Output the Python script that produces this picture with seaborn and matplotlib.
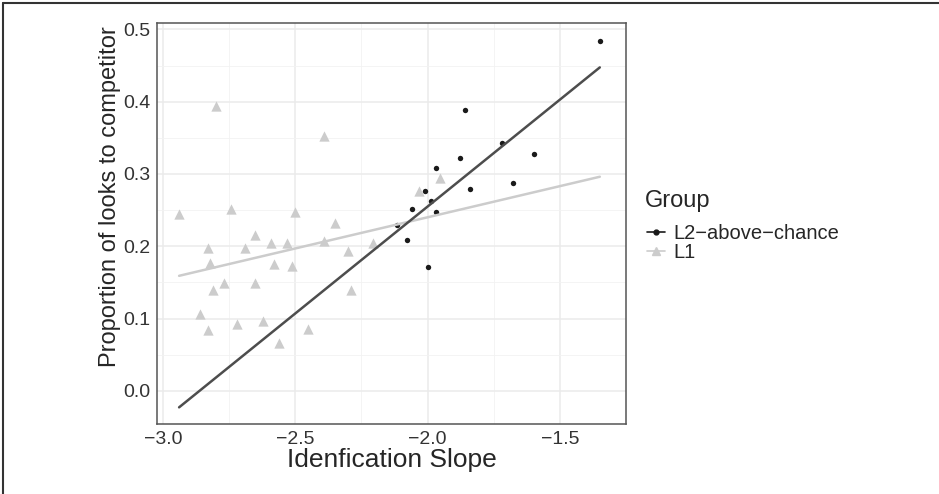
import numpy as np
import pandas as pd
import matplotlib
matplotlib.use('Agg')
import matplotlib.pyplot as plt
from matplotlib.lines import Line2D
import seaborn as sns

# L1 group (grey triangles)
l1_slope = [-2.939, -2.80, -2.741, -2.501, -2.393, -2.351, -2.651, -2.393, -2.205, -2.83,
            -2.69, -2.59, -2.531, -2.821, -2.581, -2.511, -2.301, -2.771, -2.81, -2.651,
            -2.291, -2.86, -2.83, -2.721, -2.621, -2.451, -2.56, -1.954, -2.034]
l1_prop = [0.244, 0.394, 0.251, 0.248, 0.352, 0.232, 0.215, 0.207, 0.205, 0.198,
           0.197, 0.205, 0.204, 0.177, 0.175, 0.173, 0.194, 0.149, 0.140, 0.149,
           0.140, 0.106, 0.084, 0.093, 0.096, 0.085, 0.066, 0.294, 0.277]

# L2-above-chance group (black dots)
l2_slope = [-1.349, -1.857, -1.718, -1.599, -1.876, -1.968, -1.678, -1.838, -2.008, -1.988,
            -2.058, -1.968, -2.115, -2.076, -1.998]
l2_prop = [0.484, 0.388, 0.343, 0.327, 0.322, 0.308, 0.288, 0.279, 0.276, 0.263,
           0.252, 0.247, 0.229, 0.209, 0.172]

groups = ['L2\u2212above\u2212chance', 'L1']
colors = {groups[0]: '#1a1a1a', 'L1': '#cccccc'}
line_colors = {groups[0]: '#4d4d4d', 'L1': '#cccccc'}
markers = {groups[0]: 'o', 'L1': '^'}
sizes = {groups[0]: 15, 'L1': 55}

df = pd.concat([
    pd.DataFrame({'slope': l2_slope, 'prop': l2_prop, 'Group': groups[0]}),
    pd.DataFrame({'slope': l1_slope, 'prop': l1_prop, 'Group': groups[1]}),
])

sns.set_style('whitegrid')
plt.rcParams['font.family'] = ['Liberation Sans', 'DejaVu Sans']

fig = plt.figure(figsize=(9.39, 4.94), dpi=100)
ax = fig.add_axes([157 / 939, 1 - 424 / 494, (626 - 157) / 939, (424 - 23) / 494])

xmin, xmax = df['slope'].min(), df['slope'].max()
xs = np.linspace(xmin, xmax, 50)

# L1 first so L2 sits on top
for g in ['L1', groups[0]]:
    sub = df[df['Group'] == g]
    sns.scatterplot(data=sub, x='slope', y='prop', ax=ax, color=colors[g],
                    marker=markers[g], s=sizes[g], linewidth=0, zorder=3, legend=False)
for g in ['L1', groups[0]]:
    sub = df[df['Group'] == g]
    b, a = np.polyfit(sub['slope'], sub['prop'], 1)
    sns.lineplot(x=xs, y=a + b * xs, ax=ax, color=line_colors[g], linewidth=1.8, zorder=4)

ax.set_xlim(-3.0225, -1.2625)
ax.set_ylim(-0.0458, 0.5088)
ax.set_xticks([-3.0, -2.5, -2.0, -1.5])
ax.set_xticklabels(['\u22123.0', '\u22122.5', '\u22122.0', '\u22121.5'])
ax.set_yticks([0.0, 0.1, 0.2, 0.3, 0.4, 0.5])
ax.set_yticklabels(['0.0', '0.1', '0.2', '0.3', '0.4', '0.5'])
ax.set_xticks([-2.75, -2.25, -1.75, -1.25], minor=True)
ax.set_yticks([0.05, 0.15, 0.25, 0.35, 0.45], minor=True)
ax.grid(which='major', color='#ebebeb', linewidth=1.1)
ax.grid(which='minor', color='#f2f2f2', linewidth=0.6)
ax.set_axisbelow(True)
for s in ax.spines.values():
    s.set_color('#555555')
    s.set_linewidth(1.1)
ax.tick_params(which='major', length=3, color='#555555', labelsize=14, labelcolor='#333333', pad=2)
ax.tick_params(which='minor', length=0)
ax.set_xlabel('Idenfication Slope', fontsize=19, labelpad=0)
ax.set_ylabel('Proportion of looks to competitor', fontsize=17)
ax.yaxis.set_label_coords(-0.076, 0.566)

# legend
fig.text(645 / 939, 1 - 201 / 494, 'Group', fontsize=17, va='center', ha='left')
handles = [Line2D([0], [0], color=colors[g], marker=markers[g], markersize=6 if g == 'L1' else 3.5,
                  linewidth=1.2, label=g) for g in groups]
fig.legend(handles=handles, loc='upper left', bbox_to_anchor=(647 / 939, 1 - 224 / 494),
           frameon=False, fontsize=14.5, handlelength=0.9,
           labelspacing=0.0, handletextpad=0.4, borderaxespad=0, borderpad=0)

# outer border lines (top and left)
fig.add_artist(Line2D([3 / 939, 3 / 939], [0, 1 - 3 / 494], color='#333333', linewidth=1.5))
fig.add_artist(Line2D([3 / 939, 1], [1 - 3 / 494, 1 - 3 / 494], color='#333333', linewidth=1.5))

fig.savefig('out.png', dpi=100)
